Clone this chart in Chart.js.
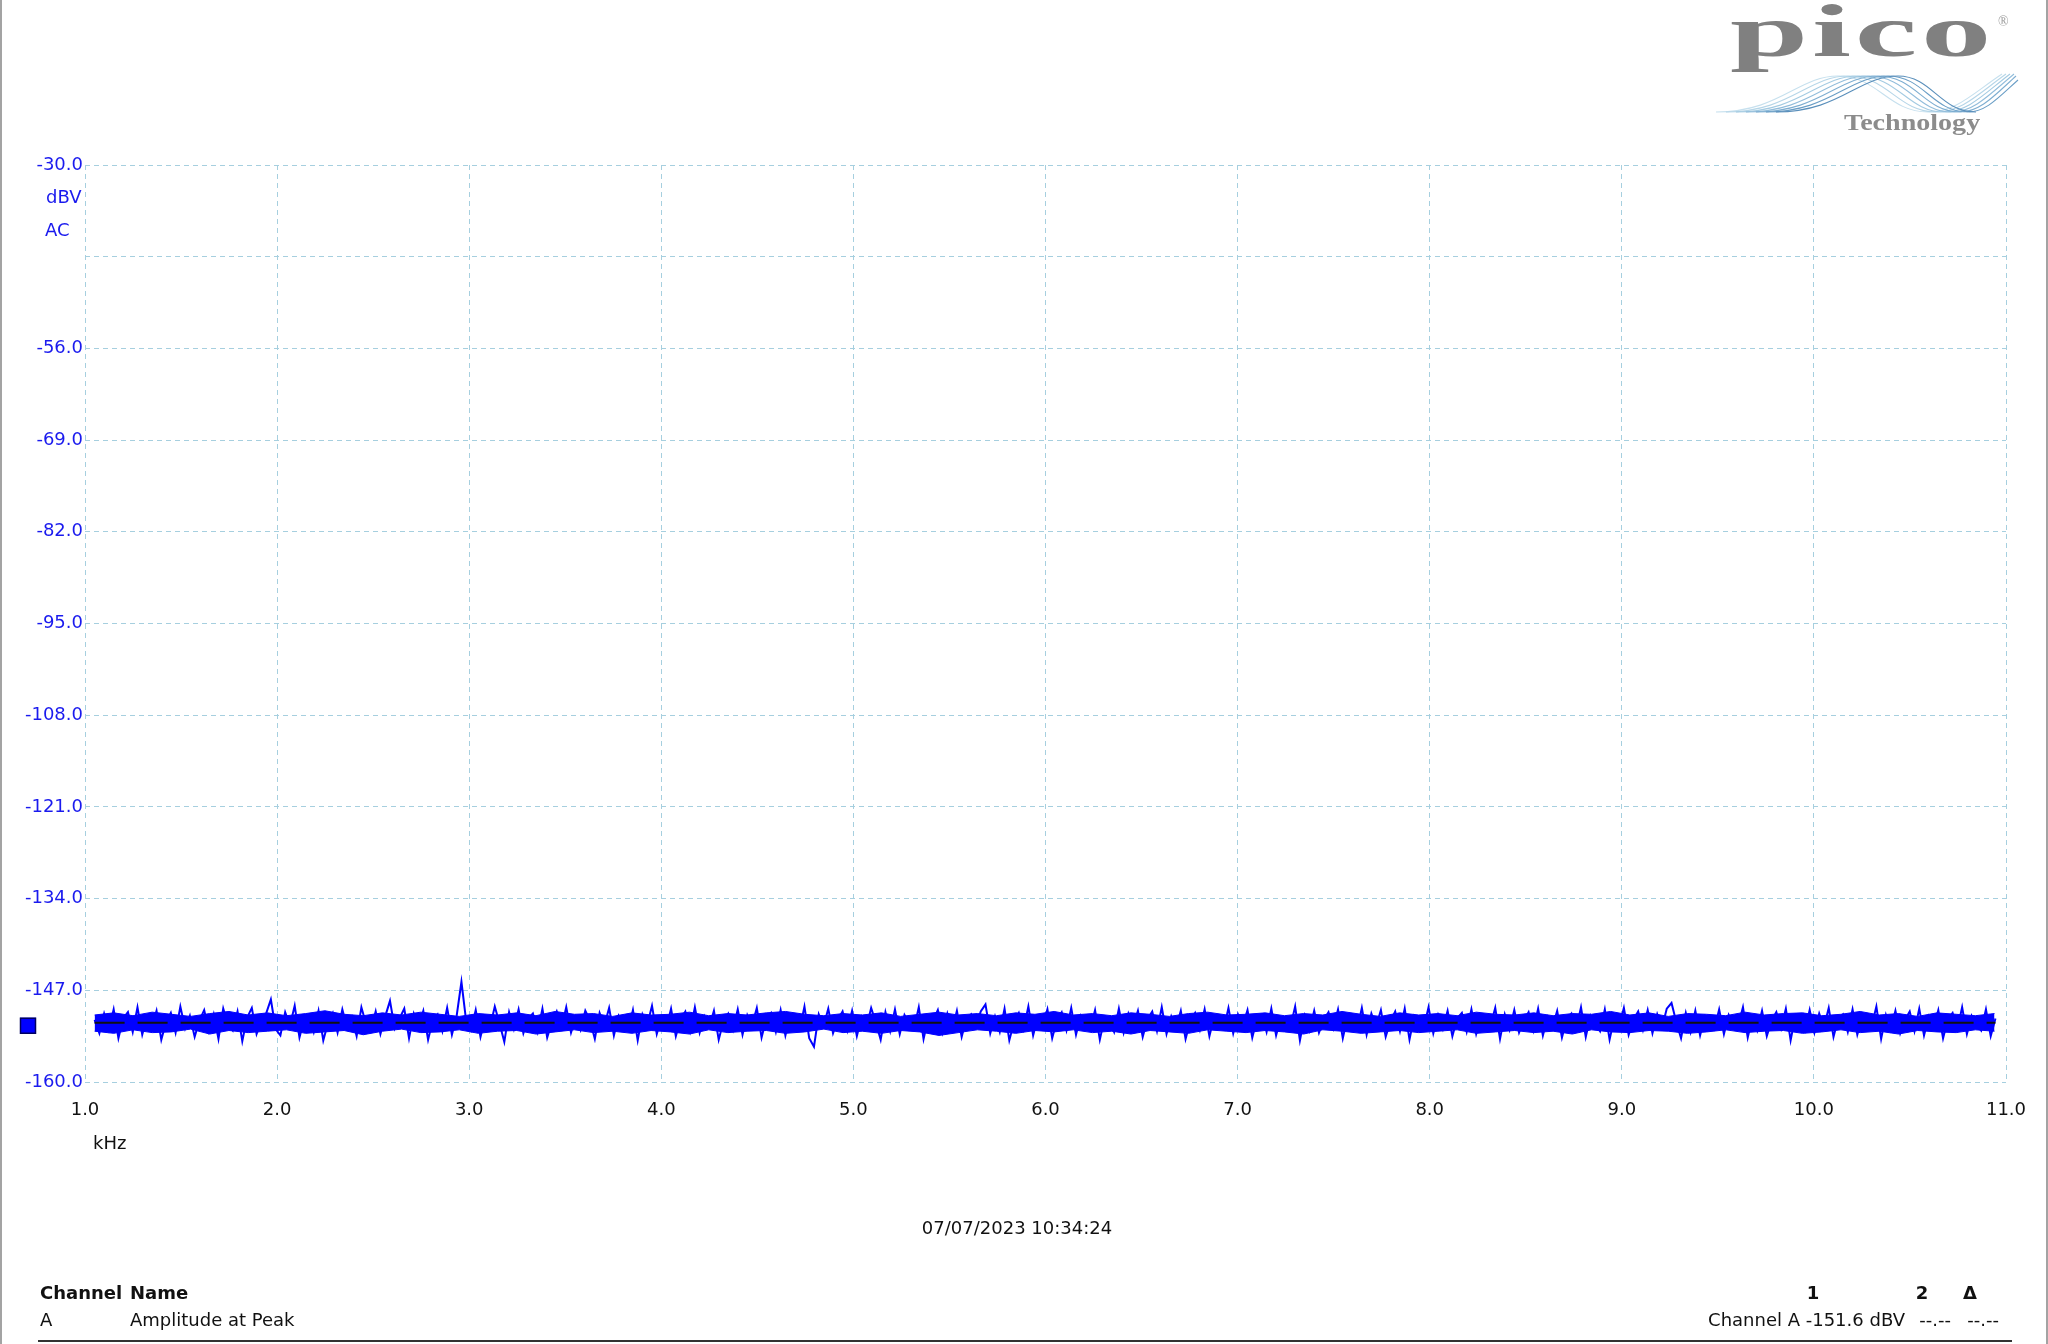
<!DOCTYPE html>
<html>
<head>
<meta charset="utf-8">
<title>Spectrum - Channel A</title>
<script src="https://cdn.jsdelivr.net/npm/chart.js@4.4.0/dist/chart.umd.min.js"></script>
<style>
  body { margin: 0; background: #fff; }
  #page { position: relative; width: 2048px; height: 1344px; overflow: hidden; background: #fff;
          font-family: "DejaVu Sans", sans-serif; color: #111; }
  #spectrum { position: absolute; left: 0; top: 0; }
  .frame-l, .frame-r { position: absolute; top: 0; width: 2px; height: 1344px; background: #a3a3a3; }
  .frame-l { left: 0; }
  .frame-r { left: 2046px; }
  .txt { position: absolute; font-size: 18px; line-height: 18px; white-space: nowrap; }
  .b { font-weight: bold; }
  .logo-pico { position: absolute; left: 1730px; top: -6px; font-family: "Liberation Serif", serif;
               font-weight: bold; font-size: 74px; line-height: 74px; color: #808080; letter-spacing: 2px;
               transform: scaleX(1.9); transform-origin: left top; }
  .logo-reg { position: absolute; left: 1998px; top: 14px; font-family: "Liberation Serif", serif;
              font-size: 14px; color: #9a9a9a; }
  .logo-tech { position: absolute; left: 1844px; top: 111px; font-family: "Liberation Serif", serif;
               font-weight: bold; font-size: 23px; line-height: 23px; color: #8c8c8c;
               transform: scaleX(1.22); transform-origin: left top; }
  .waves { position: absolute; left: 1710px; top: 70px; }
  .rule { position: absolute; left: 38px; top: 1340px; width: 1974px; height: 2px; background: #333; }
</style>
</head>
<body>
<div id="page">
  <canvas id="spectrum" width="2048" height="1344"></canvas>
  <div class="frame-l"></div>
  <div class="frame-r"></div>

  <!-- logo -->
  <div class="logo-pico">pico</div>
  <div class="logo-reg">®</div>
  <svg class="waves" width="310" height="48" viewBox="0 0 310 48">
    <g fill="none" stroke-width="1.1">
      <path d="M6 42 C70 42 88 6 128 6 C168 6 178 42 218 42 C246 42 262 24 292 4" stroke="#c6e0ee"/>
      <path d="M16 42 C80 42 98 6 138 6 C178 6 188 42 226 42 C252 42 268 24 296 4" stroke="#b6d6e8"/>
      <path d="M26 42 C90 42 108 6 148 6 C188 6 198 42 234 42 C258 42 274 24 300 4" stroke="#a4cbe2"/>
      <path d="M36 42 C100 42 118 6 158 6 C198 6 206 42 242 42 C264 42 280 24 304 4" stroke="#92bddb"/>
      <path d="M46 42 C110 42 128 6 168 6 C206 6 214 42 250 42 C270 42 284 26 306 6" stroke="#7eaed1"/>
      <path d="M56 42 C120 42 138 6 178 6 C214 6 222 42 258 42 C276 42 288 28 308 10" stroke="#6a9ec6"/>
      <path d="M66 42 C130 42 148 6 188 6 C222 6 230 42 266 42" stroke="#5a8fbb"/>
    </g>
  </svg>
  <div class="logo-tech">Technology</div>

  <!-- footer -->
  <div class="txt" style="left:1017px; top:1219px; transform:translateX(-50%);">07/07/2023 10:34:24</div>
  <div class="txt b" style="left:40px; top:1284px;">Channel</div>
  <div class="txt b" style="left:130px; top:1284px;">Name</div>
  <div class="txt" style="left:40px; top:1311px;">A</div>
  <div class="txt" style="left:130px; top:1311px;">Amplitude at Peak</div>
  <div class="txt b" style="left:1813px; top:1284px; transform:translateX(-50%);">1</div>
  <div class="txt b" style="left:1922px; top:1284px; transform:translateX(-50%);">2</div>
  <div class="txt b" style="left:1970px; top:1284px; transform:translateX(-50%);">Δ</div>
  <div class="txt" style="right:143px; top:1311px;">Channel A -151.6 dBV</div>
  <div class="txt" style="right:97px; top:1311px;">--.--</div>
  <div class="txt" style="right:49px; top:1311px;">--.--</div>
  <div class="rule"></div>
</div>

<script>
// ==============================
// DATA
// ==============================
const binStartKHz = 1.05;
const binWidthKHz = 0.0248;

// peak-to-peak trace, one value per displayed bin
const amplitudeDbv = [
  -151.2, -153.1, -150.3, -152.6, -149.7, -153.8, -151.0, -150.1, -152.9, -149.4, -153.3, -150.8, -152.2, -149.9, -154.0, -151.5, -150.2, -153.0, -149.3, -152.4,
  -150.6, -153.6, -151.3, -149.8, -152.8, -150.4, -153.9, -149.6, -151.9, -152.7, -150.0, -154.2, -150.9, -149.5, -153.2, -151.4, -150.3, -148.3, -152.5, -153.4,
  -150.1, -152.0, -149.2, -153.7, -151.1, -150.5, -152.9, -149.9, -154.1, -151.6, -150.2, -153.0, -149.7, -152.3, -150.8, -153.5, -149.4, -151.8, -152.6, -150.0,
  -153.2, -150.7, -148.5, -152.4, -151.0, -149.6, -153.8, -150.3, -152.1, -149.9, -154.0, -151.2, -150.4, -152.8, -149.5, -153.3, -150.6, -145.8, -151.4, -152.7,
  -149.8, -153.6, -150.9, -152.2, -149.3, -151.7, -154.3, -150.1, -152.5, -149.7, -153.1, -151.0, -150.3, -152.9, -149.6, -153.7, -151.5, -150.0, -152.3, -149.4,
  -153.0, -150.8, -152.6, -149.9, -151.3, -153.9, -150.2, -152.0, -149.5, -153.4, -150.6, -151.8, -152.7, -149.8, -154.1, -150.4, -151.9, -149.2, -153.2, -150.9,
  -152.4, -149.6, -153.5, -151.1, -150.0, -152.8, -149.4, -153.0, -150.7, -152.2, -149.9, -154.0, -151.4, -150.3, -152.6, -149.7, -153.3, -150.5, -152.0, -149.5,
  -153.7, -151.0, -150.2, -152.9, -149.8, -153.4, -150.6, -151.9, -152.5, -149.3, -153.8, -155.0, -150.4, -152.1, -149.6, -153.1, -151.2, -150.0, -152.7, -149.9,
  -153.5, -150.8, -152.3, -149.5, -151.6, -154.0, -150.1, -152.8, -149.7, -153.2, -150.5, -151.7, -152.4, -149.4, -153.9, -150.9, -151.3, -149.8, -153.0, -150.3,
  -152.6, -149.9, -153.6, -151.0, -150.4, -152.2, -150.0, -149.0, -153.1, -150.7, -152.9, -149.6, -154.1, -151.5, -150.2, -152.5, -149.3, -153.4, -150.8, -152.0,
  -149.7, -153.8, -151.2, -150.1, -152.7, -149.5, -153.3, -150.6, -151.8, -152.4, -149.8, -154.0, -150.9, -151.4, -152.9, -149.6, -153.0, -150.3, -152.1, -149.9,
  -153.6, -151.1, -150.0, -152.8, -149.4, -153.2, -150.7, -152.3, -149.9, -153.9, -151.3, -150.2, -152.6, -149.7, -153.5, -150.8, -151.9, -152.5, -149.5, -153.1,
  -150.4, -152.0, -149.8, -153.7, -151.0, -150.5, -152.9, -149.6, -153.4, -150.9, -151.6, -152.2, -149.3, -154.1, -150.6, -152.7, -149.9, -153.0, -151.2, -150.1,
  -152.4, -149.7, -153.8, -150.8, -151.5, -152.6, -149.5, -153.3, -150.3, -152.1, -149.8, -153.6, -151.4, -150.0, -152.8, -149.6, -154.0, -150.7, -151.9, -152.3,
  -149.4, -153.1, -150.5, -152.5, -149.9, -153.5, -151.0, -150.2, -152.9, -149.7, -153.2, -150.9, -151.7, -152.0, -149.5, -153.9, -150.4, -152.6, -149.8, -153.0,
  -151.3, -150.1, -152.7, -149.6, -153.4, -150.8, -152.2, -149.9, -153.7, -151.1, -150.3, -152.4, -149.4, -153.6, -150.6, -151.8, -152.8, -149.7, -154.0, -150.9,
  -152.1, -149.5, -153.3, -151.2, -150.0, -152.6, -149.8, -153.1, -150.4, -152.3, -149.6, -148.8, -151.5, -153.8, -150.2, -152.9, -149.9, -153.4, -150.7, -151.6,
  -152.5, -149.7, -153.2, -150.5, -151.9, -152.0, -149.4, -153.7, -150.8, -152.7, -149.9, -153.5, -151.3, -150.1, -152.4, -149.6, -154.1, -150.6, -151.7, -152.8,
  -149.8, -153.0, -150.3, -152.2, -149.5, -153.6, -151.0, -150.4, -152.9, -149.7, -153.3, -150.9, -151.4, -152.1, -149.3, -153.9, -150.5, -152.6, -149.9, -153.1,
  -151.2, -150.0, -152.8, -149.6, -153.4, -150.7, -152.3, -149.8, -153.8, -151.1, -150.2, -152.5, -149.4, -153.2, -150.6, -151.9, -152.7, -149.7, -153.5, -151.0
];

// solid core of the noise band (upper / lower edge), coarser bins
const bandStartKHz = 1.05;
const bandStepKHz = 0.0999;
const bandUpperDbv = [
  -150.5, -150.2, -150.6, -150.1, -150.4, -150.7, -150.3, -150.0, -150.5, -150.2,
  -150.6, -150.3, -149.9, -150.4, -150.6, -150.2, -150.5, -150.1, -150.4, -150.7,
  -150.3, -150.5, -150.2, -150.6, -150.0, -150.4, -150.3, -150.7, -150.2, -150.5,
  -150.4, -150.1, -150.6, -150.3, -150.5, -150.2, -150.0, -150.4, -150.6, -150.3,
  -150.5, -150.2, -150.7, -150.4, -150.1, -150.5, -150.3, -150.6, -150.2, -150.4,
  -150.0, -150.5, -150.3, -150.6, -150.2, -150.4, -150.7, -150.3, -150.1, -150.5,
  -150.4, -150.2, -150.6, -150.3, -150.5, -150.0, -150.4, -150.7, -150.2, -150.5,
  -150.3, -150.6, -150.1, -150.4, -150.5, -150.2, -150.6, -150.3, -150.4, -150.0,
  -150.5, -150.2, -150.7, -150.3, -150.4, -150.6, -150.1, -150.5, -150.3, -150.2,
  -150.6, -150.4, -150.0, -150.5, -150.3, -150.7, -150.2, -150.4, -150.6, -150.3
];
const bandLowerDbv = [
  -152.8, -153.1, -152.6, -153.0, -152.9, -152.5, -153.2, -152.7, -153.0, -152.8,
  -152.6, -153.1, -152.9, -152.7, -153.3, -152.8, -152.5, -153.0, -152.9, -152.6,
  -153.1, -152.8, -152.7, -153.2, -152.9, -152.6, -153.0, -152.8, -153.1, -152.7,
  -152.9, -153.2, -152.6, -153.0, -152.8, -152.7, -153.1, -152.9, -152.5, -153.0,
  -152.8, -153.1, -152.7, -152.9, -153.4, -153.0, -152.6, -152.8, -153.1, -152.7,
  -152.9, -152.6, -153.0, -152.8, -153.2, -152.7, -152.9, -153.1, -152.6, -152.8,
  -153.0, -152.7, -152.9, -153.2, -152.6, -152.8, -153.1, -152.9, -152.7, -153.0,
  -152.8, -152.6, -153.1, -152.9, -152.7, -153.0, -152.8, -153.2, -152.6, -152.9,
  -153.0, -152.7, -152.8, -153.1, -152.9, -152.6, -153.0, -152.8, -152.7, -153.1,
  -152.9, -152.6, -153.0, -152.8, -153.2, -152.7, -152.9, -153.0, -152.6, -152.8
];

const rulerLevelDbv = -151.6;

const xTicks = [1, 2, 3, 4, 5, 6, 7, 8, 9, 10, 11];
const xTickLabels = ["1.0", "2.0", "3.0", "4.0", "5.0", "6.0", "7.0", "8.0", "9.0", "10.0", "11.0"];
const yTicks = [-160, -147, -134, -121, -108, -95, -82, -69, -56, -43, -30];
const yTickLabels = ["-160.0", "-147.0", "-134.0", "-121.0", "-108.0", "-95.0", "-82.0", "-69.0", "-56.0", "", "-30.0"];

// ==============================
// BUILD POINTS
// ==============================
const tracePoints = amplitudeDbv.map((v, i) => ({ x: binStartKHz + i * binWidthKHz, y: v }));
const upperPoints = bandUpperDbv.map((v, i) => ({ x: bandStartKHz + i * bandStepKHz, y: v }));
const lowerPoints = bandLowerDbv.map((v, i) => ({ x: bandStartKHz + i * bandStepKHz, y: v }));
const lastBin = tracePoints[tracePoints.length - 1].x;
const rulerPoints = [{ x: binStartKHz, y: rulerLevelDbv }, { x: lastBin, y: rulerLevelDbv }];

const traceBlue = "#0000ff";
const gridColor = "#a6cfdf";
const blueText = "#1a1aee";
const tickFont = { family: "DejaVu Sans", size: 18 };

// unit labels + channel marker
const extras = {
  id: "extras",
  afterDraw(chart) {
    const c = chart.ctx;
    const y = chart.scales.y;
    c.save();
    c.font = "18px 'DejaVu Sans'";
    c.textBaseline = "middle";
    c.textAlign = "left";
    c.fillStyle = blueText;
    c.fillText("dBV", 46, 198);
    c.fillText("AC", 45, 231);
    c.fillStyle = "#111";
    c.fillText("kHz", 93, 1144);

    // channel A offset marker
    const my = y.getPixelForValue(rulerLevelDbv) + 3;
    c.fillStyle = traceBlue;
    c.fillRect(20, my - 8, 16, 16);
    c.strokeStyle = "#000060";
    c.lineWidth = 1.5;
    c.strokeRect(20.5, my - 7.5, 15, 15);
    c.restore();
  }
};

const ctx = document.getElementById("spectrum");
new Chart(ctx, {
  type: "line",
  data: {
    datasets: [
      {
        label: "Ruler",
        data: rulerPoints,
        order: 0,
        borderColor: "#111",
        borderWidth: 2,
        borderDash: [30, 13],
        pointRadius: 0,
        fill: false
      },
      {
        label: "Channel A",
        data: tracePoints,
        order: 1,
        borderColor: traceBlue,
        borderWidth: 2,
        pointRadius: 0,
        tension: 0,
        fill: false
      },
      {
        label: "band upper",
        data: upperPoints,
        order: 2,
        borderColor: traceBlue,
        borderWidth: 1,
        backgroundColor: traceBlue,
        pointRadius: 0,
        fill: "+1"
      },
      {
        label: "band lower",
        data: lowerPoints,
        order: 3,
        borderColor: traceBlue,
        borderWidth: 1,
        pointRadius: 0,
        fill: false
      }
    ]
  },
  options: {
    responsive: false,
    animation: false,
    devicePixelRatio: 1,
    layout: { padding: { left: 0, top: 165, right: 42, bottom: 202 } },
    plugins: { legend: { display: false }, tooltip: { enabled: false } },
    scales: {
      x: {
        type: "linear",
        min: 1,
        max: 11,
        afterBuildTicks: s => { s.ticks = xTicks.map(v => ({ value: v })); },
        afterFit: s => { s.height = 60; },
        grid: { color: gridColor, lineWidth: 1, drawTicks: false },
        border: { display: false, dash: [5, 4] },
        ticks: {
          color: "#111",
          font: tickFont,
          padding: 18,
          maxRotation: 0,
          autoSkip: false,
          callback: v => xTickLabels[xTicks.indexOf(v)] ?? ""
        }
      },
      y: {
        type: "linear",
        min: -160,
        max: -30,
        afterBuildTicks: s => { s.ticks = yTicks.map(v => ({ value: v })); },
        afterFit: s => { s.width = 85; },
        grid: { color: gridColor, lineWidth: 1, drawTicks: false },
        border: { display: false, dash: [5, 4] },
        ticks: {
          color: blueText,
          font: tickFont,
          padding: 2,
          autoSkip: false,
          callback: v => yTickLabels[yTicks.indexOf(v)] ?? ""
        }
      }
    }
  },
  plugins: [extras]
});
</script>
</body>
</html>
